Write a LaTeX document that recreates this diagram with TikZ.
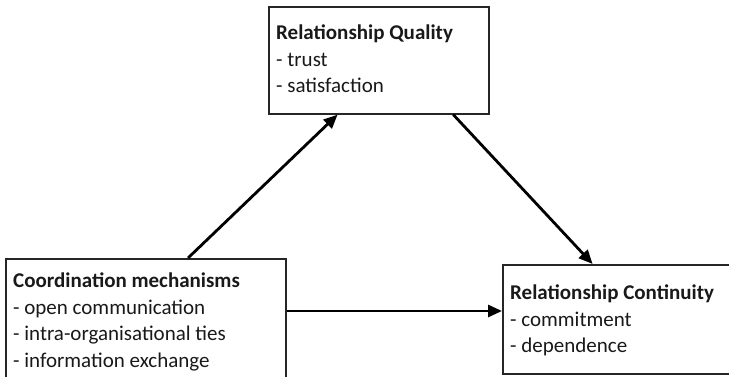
\documentclass[tikz,border=0pt]{standalone}
\usepackage{fontspec}
\setmainfont{Carlito}
\usetikzlibrary{arrows.meta,calc}
\begin{document}
\begin{tikzpicture}[x=1pt,y=-1pt,
  boxnode/.style={draw=black!85,line width=1.6pt,rectangle,anchor=north west,inner sep=0pt},
  txt/.style={anchor=north west,align=left,inner sep=0pt,font=\fontsize{21}{26.5}\selectfont,text=black!90},
  arr/.style={line width=2.8pt,-{Triangle[length=14pt,width=12pt]}}]
\useasboundingbox (0,0) rectangle (729,377);
\node[boxnode,minimum width=280pt,minimum height=140pt] (lb) at (5,258) {};
\node[boxnode,minimum width=220pt,minimum height=107pt] (tb) at (268,6) {};
\node[boxnode,minimum width=240pt,minimum height=109pt] (rb) at (502,264) {};
\node[txt] (lt) at (13,273) {\textbf{Coordination mechanisms}\\- open communication\\- intra-organisational ties\\- information exchange};
\node[txt] (tt) at (276,25) {\textbf{Relationship Quality}\\- trust\\- satisfaction};
\node[txt] (rt) at (510,285) {\textbf{Relationship Continuity}\\- commitment\\- dependence};
\coordinate (a3s) at ($(lb.north east)+(0,53)$);
\draw[arr] ($(lb.north west)!0.65!(lb.north east)$) -- ($(tb.south west)!0.314!(tb.south east)$);
\draw[arr] ($(tb.south west)!0.836!(tb.south east)$) -- ($(rb.north west)!0.375!(rb.north east)$);
\draw[arr] (a3s) -- (a3s -| rb.west);
\end{tikzpicture}
\end{document}
